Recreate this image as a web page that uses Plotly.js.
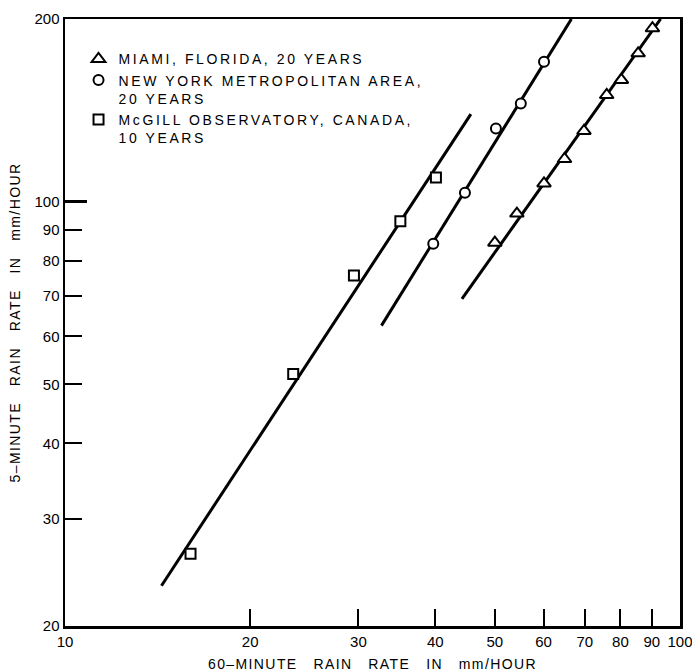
<!DOCTYPE html>
<html><head><meta charset="utf-8">
<script src="https://cdn.plot.ly/plotly-3.0.1.min.js"></script>
<style>
body{margin:0;background:#fff}
.legendtext{letter-spacing:2.6px}
.xtitle,.ytitle{letter-spacing:1.4px}
</style></head><body>
<div id="chart" style="width:692px;height:672px"></div>
<script>
// Miami, Florida (triangles)
const miamiX = [50.0, 54.3, 60.1, 64.9, 69.8, 76.0, 80.3, 85.5, 90.2];
const miamiY = [85.6, 95.6, 107.2, 117.6, 130.8, 149.9, 158.7, 175.6, 193.1];
const miamiLineX = [44.2, 93.0];
const miamiLineY = [69.2, 200];
// New York metropolitan area (circles)
const nyX = [39.7, 44.7, 50.2, 55.1, 60.1];
const nyY = [85.3, 103.5, 132.0, 145.2, 170.1];
const nyLineX = [32.7, 66.6];
const nyLineY = [62.5, 200];
// McGill Observatory (squares)
const mcgX = [16.0, 23.5, 29.5, 35.1, 40.1];
const mcgY = [26.3, 52.0, 75.6, 92.9, 109.6];
const mcgLineX = [14.35, 45.7];
const mcgLineY = [23.3, 139.4];

const xTicks = [10, 20, 30, 40, 50, 60, 70, 80, 90, 100];
const yTicks = [20, 30, 40, 50, 60, 70, 80, 90, 100, 200];
const names = ['MIAMI, FLORIDA, 20 YEARS', 'NEW YORK METROPOLITAN AREA,<br>20 YEARS', 'McGILL OBSERVATORY, CANADA,<br>10 YEARS'];

const S = '\u00a0';
const lineStyle = {color: '#000', width: 3};
const traces = [
  {x: mcgLineX, y: mcgLineY, mode: 'lines', line: lineStyle, showlegend: false, hoverinfo: 'skip'},
  {x: nyLineX, y: nyLineY, mode: 'lines', line: lineStyle, showlegend: false, hoverinfo: 'skip'},
  {x: miamiLineX, y: miamiLineY, mode: 'lines', line: lineStyle, showlegend: false, hoverinfo: 'skip'},
  {x: miamiX, y: miamiY, mode: 'markers', name: names[0], cliponaxis: false,
   marker: {symbol: 'triangle-up', size: 12, color: '#fff', line: {color: '#000', width: 2}}},
  {x: nyX, y: nyY, mode: 'markers', name: names[1],
   marker: {symbol: 'circle', size: 10, color: '#fff', line: {color: '#000', width: 2}}},
  {x: mcgX, y: mcgY, mode: 'markers', name: names[2],
   marker: {symbol: 'square', size: 10, color: '#fff', line: {color: '#000', width: 2}}}
];

const axisCommon = {
  type: 'log', showgrid: false, zeroline: false, showline: true, mirror: true,
  linecolor: '#000', linewidth: 2.5, ticks: 'inside', ticklen: 17, tickwidth: 2,
  tickcolor: '#000', tickmode: 'array', fixedrange: true, ticklabeloverflow: 'allow',
  tickfont: {family: 'Liberation Sans, Arial, sans-serif', size: 15, color: '#000'}
};

const layout = {
  width: 692, height: 672,
  margin: {l: 65, r: 12, t: 19, b: 46},
  paper_bgcolor: '#fff', plot_bgcolor: '#fff',
  font: {family: 'Liberation Sans, Arial, sans-serif', color: '#000'},
  xaxis: Object.assign({}, axisCommon, {
    range: [1, 2], tickvals: xTicks, ticktext: xTicks.map(String),
    title: {text: '60–MINUTE' + S + S + ' RAIN' + S + S + ' RATE' + S + S + ' IN' + S + S + ' mm/HOUR',
            font: {size: 14, color: '#000'}, standoff: 12}
  }),
  yaxis: Object.assign({}, axisCommon, {
    range: [Math.log10(20), Math.log10(200)], tickvals: yTicks, ticktext: yTicks.map(String),
    minor: {tickmode: 'array', tickvals: [100], ticks: 'inside', ticklen: 22, tickwidth: 2.5, tickcolor: '#000'},
    title: {text: '5–MINUTE' + S + S + ' RAIN' + S + S + ' RATE' + S + S + ' IN' + S + S + ' mm/HOUR',
            font: {size: 14, color: '#000'}, standoff: 11}
  }),
  legend: {x: 0.022, y: 0.96, xanchor: 'left', yanchor: 'top', bgcolor: 'rgba(0,0,0,0)',
           font: {size: 14, color: '#000'}, valign: 'top', tracegroupgap: 0},
  showlegend: true
};

Plotly.newPlot('chart', traces, layout, {displayModeBar: false, staticPlot: true});
</script>
</body></html>
